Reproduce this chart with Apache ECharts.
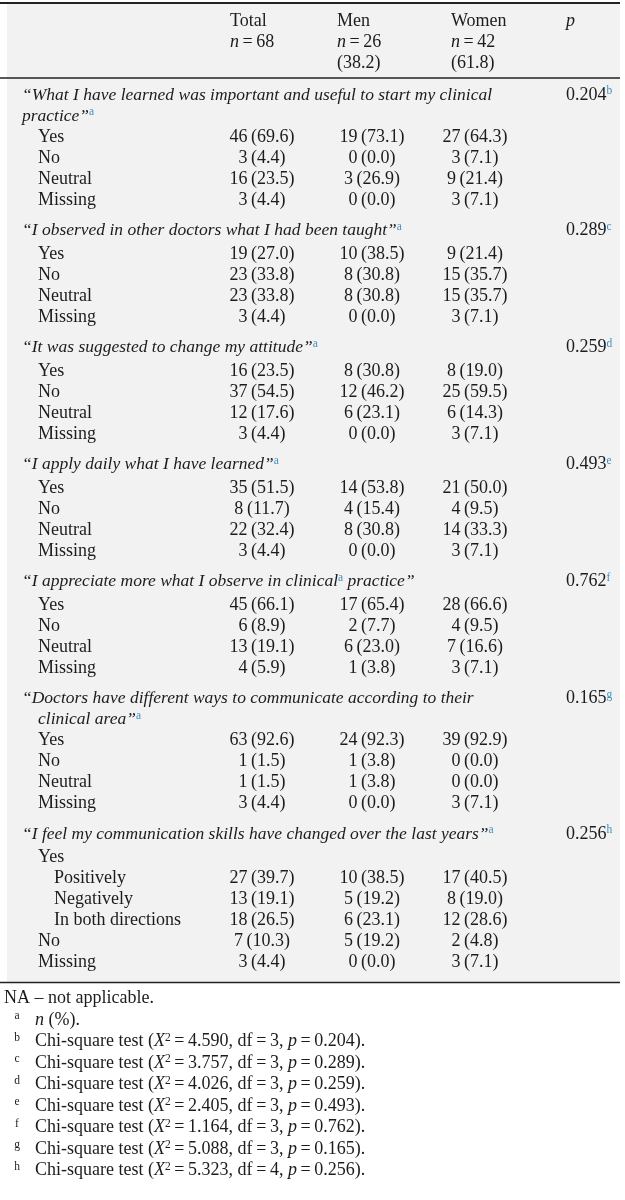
<!DOCTYPE html>
<html><head><meta charset="utf-8">
<script src="https://cdn.jsdelivr.net/npm/echarts@6/dist/echarts.min.js"></script>
<style>html,body{margin:0;padding:0;background:#fff}#c{width:625px;height:1200px}</style>
</head><body><div id="c"></div>
<script>
// ---------------- DATA ----------------
const columnHeaders = ['Total', 'Men', 'Women'];
const groupN = [68, 26, 42];
const groupPct = [null, 38.2, 61.8];

// question text; "^a" marks a superscript footnote, "\n" a line break
const questions = [
  '“What I have learned was important and useful to start my clinical\npractice”^a',
  '“I observed in other doctors what I had been taught”^a',
  '“It was suggested to change my attitude”^a',
  '“I apply daily what I have learned”^a',
  '“I appreciate more what I observe in clinical^a practice”',
  '“Doctors have different ways to communicate according to their\nclinical area”^a',
  '“I feel my communication skills have changed over the last years”^a'
];
const std = ['Yes', 'No', 'Neutral', 'Missing'];
const answerLabels = [std, std, std, std, std, std,
  ['Yes', 'Positively', 'Negatively', 'In both directions', 'No', 'Missing']];
const answerLevels = [[1,1,1,1],[1,1,1,1],[1,1,1,1],[1,1,1,1],[1,1,1,1],[1,1,1,1],[1,2,2,2,1,1]];

const totalN   = [[46,3,16,3],[19,23,23,3],[16,37,12,3],[35,8,22,3],[45,6,13,4],[63,1,1,3],[null,27,13,18,7,3]];
const totalPct = [[69.6,4.4,23.5,4.4],[27.0,33.8,33.8,4.4],[23.5,54.5,17.6,4.4],[51.5,11.7,32.4,4.4],[66.1,8.9,19.1,5.9],[92.6,1.5,1.5,4.4],[null,39.7,19.1,26.5,10.3,4.4]];
const menN     = [[19,0,3,0],[10,8,8,0],[8,12,6,0],[14,4,8,0],[17,2,6,1],[24,1,1,0],[null,10,5,6,5,0]];
const menPct   = [[73.1,0.0,26.9,0.0],[38.5,30.8,30.8,0.0],[30.8,46.2,23.1,0.0],[53.8,15.4,30.8,0.0],[65.4,7.7,23.0,3.8],[92.3,3.8,3.8,0.0],[null,38.5,19.2,23.1,19.2,0.0]];
const womenN   = [[27,3,9,3],[9,15,15,3],[8,25,6,3],[21,4,14,3],[28,4,7,3],[39,0,0,3],[null,17,8,12,2,3]];
const womenPct = [[64.3,7.1,21.4,7.1],[21.4,35.7,35.7,7.1],[19.0,59.5,14.3,7.1],[50.0,9.5,33.3,7.1],[66.6,9.5,16.6,7.1],[92.9,0.0,0.0,7.1],[null,40.5,19.0,28.6,4.8,7.1]];

const pValues = [0.204, 0.289, 0.259, 0.493, 0.762, 0.165, 0.256];
const pNotes = ['b', 'c', 'd', 'e', 'f', 'g', 'h'];
const chiSquare = [4.590, 3.757, 4.026, 2.405, 1.164, 5.088, 5.323];
const degreesFreedom = [3, 3, 3, 3, 3, 3, 4];
const naNote = 'NA – not applicable.';
const nNote = 'n (%).';

// ---------------- LAYOUT ----------------
const FONT = '"Liberation Serif", "DejaVu Serif", serif';
const FS = 18, FSI = 17.5;
const INK = '#1c1c1c';
const SUPC = '#3f8fbf';
const X = { label: 22, indent: 16, cols: [262, 372, 475], headCols: [230, 337, 451], p: 566,
            bgL: 7, bgR: 620, lineL: 0, lineR: 620, noteX: -1, na: 4 };
const Y = { topLine: 3, head: [21, 42, 63], headLine: 78, firstQ: 95, qLine: 21, qToAns: 23.5, qToAnsWrapped: 21,
            ansStep: 21, blockGap: 30.5, bottomPad: 20, noteStep: 21.5, noteGap: 16 };
const wrapIndent = [0, 0, 0, 0, 0, 16, 0];

const rich = {
  n: { font: FS + 'px ' + FONT, fill: INK },
  i: { font: 'italic ' + FSI + 'px ' + FONT, fill: INK },
  ni: { font: 'italic ' + FS + 'px ' + FONT, fill: INK },
  sup: { font: '11.5px ' + FONT, fill: SUPC, verticalAlign: 'top', lineHeight: 10 },
  supk: { font: '11.5px ' + FONT, fill: INK, verticalAlign: 'top', lineHeight: 10 },
  lab: { font: '11.5px ' + FONT, fill: INK, verticalAlign: 'top', lineHeight: 10, width: 36, align: 'center' }
};
function esc(s) { return String(s).replace(/[{}|]/g, ''); }
function fmt(n, p) { return n == null ? '' : n + '\u2009(' + p.toFixed(1) + ')'; }

// Build rows
const rows = [];
rows.push({ kind: 'rule', y: Y.topLine, w: 2 });
rows.push({ kind: 'bg', y0: Y.topLine, y1: null });
columnHeaders.forEach((h, c) => {
  rows.push({ kind: 'text', x: X.headCols[c], y: Y.head[0], align: 'left', t: '{n|' + h + '}' });
  rows.push({ kind: 'text', x: X.headCols[c], y: Y.head[1], align: 'left', t: '{ni|n}{n|\u2009=\u2009' + groupN[c] + '}' });
  if (groupPct[c] != null) rows.push({ kind: 'text', x: X.headCols[c], y: Y.head[2], align: 'left', t: '{n|(' + groupPct[c].toFixed(1) + ')}' });
});
rows.push({ kind: 'text', x: X.p, y: Y.head[0], align: 'left', t: '{ni|p}' });
rows.push({ kind: 'rule', y: Y.headLine, w: 1.3 });

let y = Y.firstQ;
let lastY = 0;
questions.forEach((q, qi) => {
  const lines = q.split('\n');
  lines.forEach((ln, li) => {
    const parts = ln.split('^a');
    const t = parts.map(s => s ? '{i|' + esc(s) + '}' : '').join('{sup|a}');
    rows.push({ kind: 'text', x: X.label + (li > 0 ? wrapIndent[qi] : 0), y: y, align: 'left', t: t });
    if (li === 0) rows.push({ kind: 'text', x: X.p, y: y, align: 'left', t: '{n|' + pValues[qi].toFixed(3) + '}{sup|' + pNotes[qi] + '}' });
    if (li < lines.length - 1) y += Y.qLine;
  });
  y += lines.length > 1 ? Y.qToAnsWrapped : Y.qToAns;
  answerLabels[qi].forEach((lab, ai) => {
    rows.push({ kind: 'text', x: X.label + X.indent * answerLevels[qi][ai], y: y, align: 'left', t: '{n|' + lab + '}' });
    const vals = [fmt(totalN[qi][ai], totalPct[qi][ai]), fmt(menN[qi][ai], menPct[qi][ai]), fmt(womenN[qi][ai], womenPct[qi][ai])];
    vals.forEach((v, c) => { if (v) rows.push({ kind: 'text', x: X.cols[c], y: y, align: 'center', t: '{n|' + v + '}' }); });
    lastY = y;
    y += Y.ansStep;
  });
  y += Y.blockGap - Y.ansStep;
});
const bottom = lastY + Y.bottomPad;
rows[1].y1 = bottom;
rows.push({ kind: 'rule', y: bottom, w: 1.3 });

let ny = bottom + Y.noteGap;
rows.push({ kind: 'text', x: X.na, y: ny, align: 'left', t: '{n|' + naNote + '}' });
ny += Y.noteStep;
rows.push({ kind: 'text', x: X.noteX, y: ny, align: 'left', t: '{lab|a}{ni|n}{n|' + nNote.slice(1) + '}' });
pNotes.forEach((k, i) => {
  ny += Y.noteStep;
  rows.push({ kind: 'text', x: X.noteX, y: ny, align: 'left',
    t: '{lab|' + k + '}{n|Chi-square test (}{ni|X}{supk|2}{n|\u2009=\u2009' + chiSquare[i].toFixed(3) + ', df\u2009=\u2009' + degreesFreedom[i] + ', }{ni|p}{n|\u2009=\u2009' + pValues[i].toFixed(3) + ').}' });
});

// ---------------- CHART ----------------
const chart = echarts.init(document.getElementById('c'), null, { renderer: 'canvas' });
chart.setOption({
  animation: false,
  grid: { left: 0, right: 0, top: 0, bottom: 0 },
  xAxis: { type: 'value', min: 0, max: 625, show: false },
  yAxis: { type: 'value', min: 0, max: 1200, inverse: true, show: false },
  series: [{
    type: 'custom',
    coordinateSystem: 'cartesian2d',
    data: rows.map((r, i) => [i]),
    renderItem: function (params, api) {
      const r = rows[params.dataIndex];
      if (r.kind === 'bg') {
        const a = api.coord([X.bgL, r.y0]), b = api.coord([X.bgR, r.y1]);
        return { type: 'rect', z2: 0, shape: { x: a[0], y: a[1], width: b[0] - a[0], height: b[1] - a[1] }, style: { fill: '#f2f2f2' } };
      }
      if (r.kind === 'rule') {
        const a = api.coord([X.lineL, r.y]), b = api.coord([X.lineR, r.y]);
        return { type: 'line', z2: 5, shape: { x1: a[0], y1: a[1], x2: b[0], y2: b[1] }, style: { stroke: '#222', lineWidth: r.w } };
      }
      const p = api.coord([r.x, r.y]);
      return { type: 'text', z2: 10, x: p[0], y: p[1],
        style: { text: r.t, rich: rich, align: r.align, verticalAlign: 'middle', font: FS + 'px ' + FONT, fill: INK, lineHeight: 20 } };
    }
  }]
});
</script></body></html>
